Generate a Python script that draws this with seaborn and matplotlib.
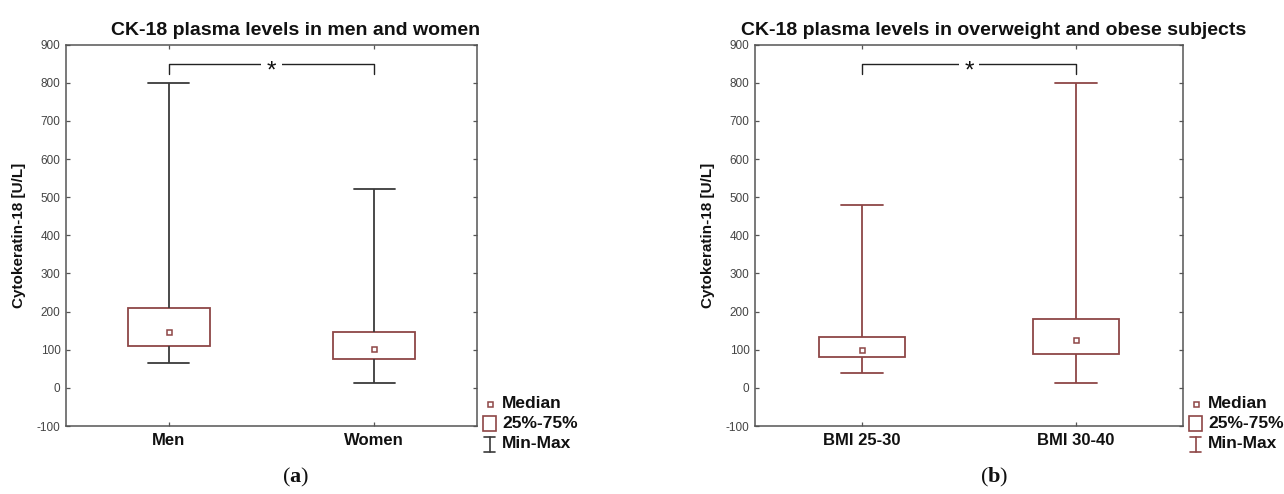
import numpy as np
import pandas as pd
import seaborn as sns
import matplotlib.pyplot as plt
from matplotlib.patches import Rectangle
from matplotlib.lines import Line2D

# ---------------- data ----------------
groups_a = ["Men", "Women"]
min_a = [65, 14]
q1_a = [110, 77]
med_a = [147, 101]
q3_a = [210, 146]
max_a = [800, 522]

groups_b = ["BMI 25-30", "BMI 30-40"]
min_b = [40, 14]
q1_b = [80, 90]
med_b = [99, 125]
q3_b = [133, 180]
max_b = [480, 800]

y_ticks = list(range(-100, 1000, 100))
title_a = "CK-18 plasma levels in men and women"
title_b = "CK-18 plasma levels in overweight and obese subjects"
y_label = "Cytokeratin-18 [U/L]"
legend_labels = ["Median", "25%-75%", "Min-Max"]
sig_label = "*"
bracket_top, bracket_leg = 849, 824

# ---------------- style ----------------
sns.set_theme(style="white")
plt.rcParams["font.family"] = ["Liberation Sans", "DejaVu Sans"]
plt.rcParams["mathtext.fontset"] = "custom"
plt.rcParams["mathtext.rm"] = "Liberation Serif"
plt.rcParams["mathtext.bf"] = "Liberation Serif:bold"

RED = "#8e4646"
GRAY_W = "#3a3a3a"
SPINE = "#555555"

W, H = 1284, 494
fig = plt.figure(figsize=(W / 100, H / 100), dpi=100)


def px_rect(left, top, right, bottom):
    return [left / W, 1 - bottom / H, (right - left) / W, (bottom - top) / H]


def fx(x):
    return x / W


def fy(y):
    return 1 - y / H


def panel(ax, groups, mins, q1s, meds, q3s, maxs, wcol, title, letter,
          spine_left_px, spine_right_px, title_cx_px):
    vals = np.column_stack([mins, q1s, meds, q3s, maxs]).ravel()
    df = pd.DataFrame({"group": np.repeat(groups, 5), "value": vals})
    dmed = pd.DataFrame({"group": groups, "median": meds})

    sns.boxplot(data=df, x="group", y="value", order=groups, whis=(0, 100),
                width=0.4, color="white", linecolor=RED, linewidth=1.3,
                showfliers=False, medianprops={"visible": False},
                whiskerprops={"color": wcol, "linewidth": 1.3},
                capprops={"color": wcol, "linewidth": 1.3},
                boxprops={"edgecolor": RED, "facecolor": "white", "linewidth": 1.3},
                ax=ax)
    sns.pointplot(data=dmed, x="group", y="median", order=groups,
                  linestyle="none", marker="s", markersize=3.6,
                  color=RED, markerfacecolor="white", markeredgecolor=RED,
                  markeredgewidth=1.1, errorbar=None, zorder=6, ax=ax)

    ax.set_xlim(-0.5, 1.5)
    ax.set_ylim(-100, 900)
    ax.set_yticks(y_ticks)
    ax.set_yticklabels([str(t) for t in y_ticks])
    ax.set_xlabel("")
    ax.set_ylabel(y_label, fontsize=11, fontweight="bold", color="#111111")
    width_px = spine_right_px - spine_left_px
    ax.yaxis.set_label_coords(-40.0 / width_px, 0.5)

    for s in ax.spines.values():
        s.set_visible(True)
        s.set_color(SPINE)
        s.set_linewidth(1.1)
    ax.tick_params(axis="both", direction="in", length=3, width=0.9,
                   color=SPINE, top=True, right=True, bottom=True, left=True)
    ax.tick_params(axis="y", labelsize=8.5, labelcolor="#444444", pad=4)
    ax.tick_params(axis="x", labelsize=12, labelcolor="#111111", pad=5)
    for lab in ax.get_xticklabels():
        lab.set_fontweight("bold")

    # significance bracket
    ax.plot([0, 0, 1, 1], [bracket_leg, bracket_top, bracket_top, bracket_leg],
            color="#222222", lw=1.0, clip_on=False, zorder=4)
    ax.annotate(sig_label, xy=(0.5, bracket_top), xytext=(0, -9.5),
                textcoords="offset points", ha="center", va="baseline",
                fontsize=17.5, color="#111111", zorder=7,
                bbox=dict(boxstyle="square,pad=0.22", fc="white", ec="none"))

    # title and panel letter
    fig.text(fx(title_cx_px), fy(35), title, ha="center", va="baseline",
             fontsize=14, fontweight="bold", color="#111111")
    fig.text(fx(title_cx_px), fy(477), r"$\mathrm{(}\mathbf{%s}\mathrm{)}$" % letter,
             ha="center", va="center", fontsize=16, color="#111111")

    # manual legend
    x0 = spine_right_px + 6
    fig.add_artist(Line2D([fx(x0 + 7)], [fy(404)], marker="s", markersize=3.6,
                          markerfacecolor="white", markeredgecolor=RED,
                          markeredgewidth=1.1, linestyle="none",
                          transform=fig.transFigure))
    fig.add_artist(Rectangle((fx(x0), fy(431)), 13 / W, 15 / H, fill=False,
                             edgecolor=RED, linewidth=1.2,
                             transform=fig.transFigure))
    xc = x0 + 6.5
    fig.add_artist(Line2D([fx(xc), fx(xc)], [fy(437), fy(452)], color=wcol,
                          lw=1.2, transform=fig.transFigure))
    for yy in (437, 452):
        fig.add_artist(Line2D([fx(x0 + 1), fx(x0 + 12)], [fy(yy), fy(yy)],
                              color=wcol, lw=1.2, transform=fig.transFigure))
    for lab, yy in zip(legend_labels, (403, 423, 443)):
        fig.text(fx(x0 + 19), fy(yy), lab, ha="left", va="center",
                 fontsize=12.5, fontweight="bold", color="#111111")


axA = fig.add_axes(px_rect(66, 44.7, 477, 426))
axB = fig.add_axes(px_rect(755, 44.7, 1183, 426))

panel(axA, groups_a, min_a, q1_a, med_a, q3_a, max_a, GRAY_W, title_a, "a", 66, 477, 296)
panel(axB, groups_b, min_b, q1_b, med_b, q3_b, max_b, RED, title_b, "b", 755, 1183, 994)

fig.savefig("out.png", dpi=100, facecolor="white")
